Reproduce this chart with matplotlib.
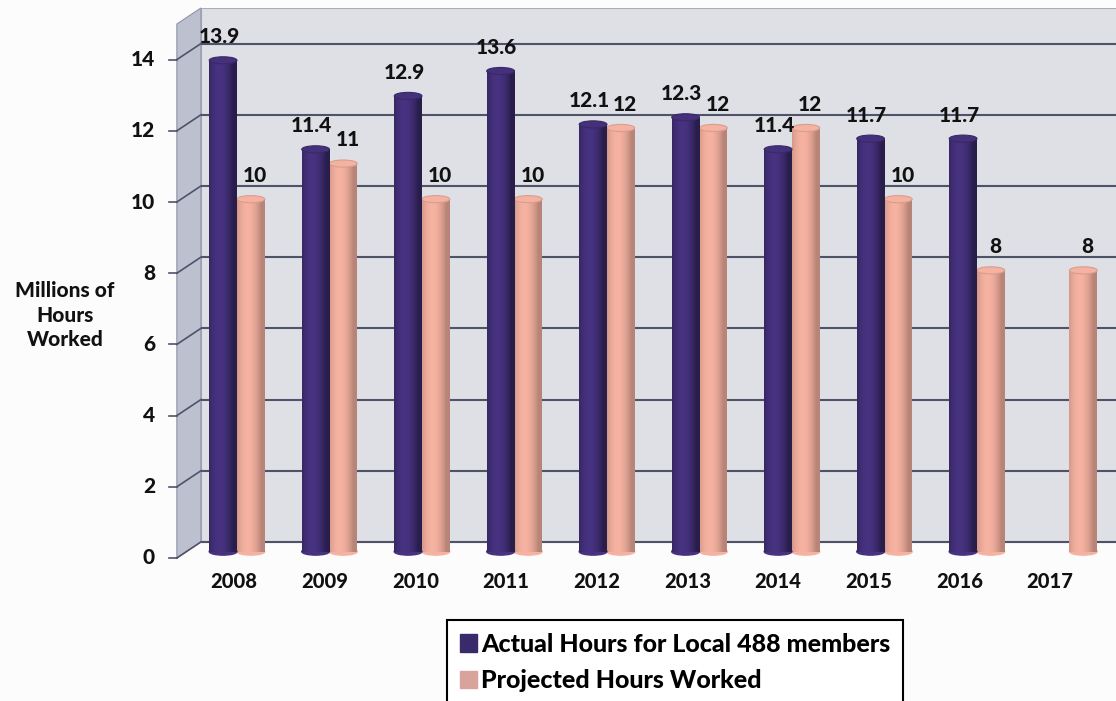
import numpy as np
import matplotlib.pyplot as plt
from matplotlib.patches import Polygon, Ellipse, Rectangle
from matplotlib.colors import to_rgb

plt.rcParams['font.family'] = ['Lato', 'DejaVu Sans']
plt.rcParams['font.weight'] = 'black'

years = ['2008', '2009', '2010', '2011', '2012', '2013', '2014', '2015', '2016', '2017']
actual = [13.9, 11.4, 12.9, 13.6, 12.1, 12.3, 11.4, 11.7, 11.7, np.nan]
projected = [10, 11, 10, 10, 12, 12, 12, 10, 8, 8]
yticks = [0, 2, 4, 6, 8, 10, 12, 14]

purple = '#3b2a6b'
salmon = '#e0a292'
wall = '#dee0e6'
side = '#bcc0cf'
grid = '#4f5368'
ink = '#111111'

back = 0.17     # back wall sits a little above the bars' baseline
front = -0.28   # front edge of the side wall, where the ticks are
depth = 0.26    # depth of the side wall in category units
top = 15.17
cap = 0.2       # height of the cylinder end ellipses
w = 0.3


def shade(col, lo, hi, n=64):
    base = np.array(to_rgb(col))
    t = np.linspace(-1, 1, n)
    light = np.clip(1 - (t + 0.25) ** 2, 0, 1)
    return np.clip(base * (lo + (hi - lo) * light[:, None]), 0, 1)


def cylinder(ax, bar, col, lo, hi, z):
    x0, bw = bar.get_x(), bar.get_width()
    y0, h = bar.get_y(), bar.get_height()
    img = shade(col, lo, hi)
    ax.add_patch(Ellipse((x0 + bw / 2, y0), bw, cap, color=img[20], zorder=z))
    ax.imshow(img[None], extent=(x0, x0 + bw, y0, y0 + h), aspect='auto',
              interpolation='bilinear', zorder=z + 0.01)
    ax.add_patch(Ellipse((x0 + bw / 2, y0 + h), bw, cap, facecolor=img[26] * 0.5 + np.array(to_rgb(col)) * 0.55,
                         edgecolor=img[2], lw=0.8, zorder=z + 0.02))


fig = plt.figure(figsize=(11.16, 7.01), dpi=100)
fig.patch.set_facecolor('#fcfcfc')
ax = fig.add_axes([200.9 / 1116, 139 / 701, 915.1 / 1116, 554 / 701])
ax.axis('off')

x = np.arange(len(years))

# walls
ax.add_patch(Rectangle((-0.39, back), 10.5, top - back, facecolor=wall,
                       edgecolor='#a9adbd', lw=0.8, zorder=0))
ax.add_patch(Polygon([(-0.39 - depth, front), (-0.39 - depth, top - 0.45),
                      (-0.39, top), (-0.39, back)], closed=True,
                     facecolor=side, edgecolor='#8f94a8', lw=0.8, zorder=0, clip_on=False))

for v in yticks:
    ax.plot([-0.39, 10.2], [v + back] * 2, color=grid, lw=1.5, zorder=1)
    ax.plot([-0.39 - depth, -0.39], [v + front, v + back], color=grid, lw=1.2,
            zorder=1, clip_on=False)
    ax.plot([-0.735, -0.39 - depth], [v + front] * 2, color=grid, lw=1.2, clip_on=False)
    ax.text(-0.886, v + front, str(v), ha='right', va='center', fontsize=15, color=ink)

ax.text(-1.86, 6.54, 'Millions of\nHours\nWorked', ha='center', va='center',
        fontsize=15, linespacing=1.35, color=ink)

# cylinders
pbars = ax.bar(x + w / 2, np.array(projected) - cap / 2, w, bottom=-cap / 2, color=salmon, zorder=3)
abars = ax.bar(x - w / 2, np.array(actual) - cap / 2, w, bottom=-cap / 2, color=purple, zorder=4)
for b in pbars:
    cylinder(ax, b, salmon, 0.82, 1.1, 3)
for b in abars:
    if np.isfinite(b.get_height()):
        cylinder(ax, b, purple, 0.7, 1.2, 4)

for i in x:
    if np.isfinite(actual[i]):
        ax.annotate(f'{actual[i]:g}', (i - w / 2, actual[i]), xytext=(-3, 5),
                    textcoords='offset points', ha='center', va='bottom',
                    fontsize=15, color=ink, zorder=6)
    ax.annotate(f'{projected[i]:g}', (i + w / 2, projected[i]), xytext=(3, 5),
                textcoords='offset points', ha='center', va='bottom',
                fontsize=15, color=ink, zorder=6)

# year labels on the front edge, slightly compressed by the perspective
for i, yr in zip(x, years):
    ax.text(i * 0.98 - 0.03, -0.95, yr, ha='center', va='center', fontsize=14.5,
            color=ink, clip_on=False)

ax.set_xlim(-0.39, 9.503)
ax.set_ylim(-0.393, top)

handles = [Rectangle((0, 0), 1, 1, color=purple), Rectangle((0, 0), 1, 1, color='#d9a39b')]
leg = fig.legend(handles, ['Actual Hours for Local 488 members', 'Projected Hours Worked'],
                 loc='upper left', bbox_to_anchor=(447 / 1116, 1 - 620 / 701),
                 borderaxespad=0, fontsize=18, fancybox=False, edgecolor='black',
                 framealpha=1, handlelength=0.7, handleheight=0.7, handletextpad=0.15,
                 labelspacing=0.55, borderpad=0.5)
leg.get_frame().set_linewidth(1.5)

fig.savefig('out.png', dpi=100, facecolor=fig.get_facecolor())
